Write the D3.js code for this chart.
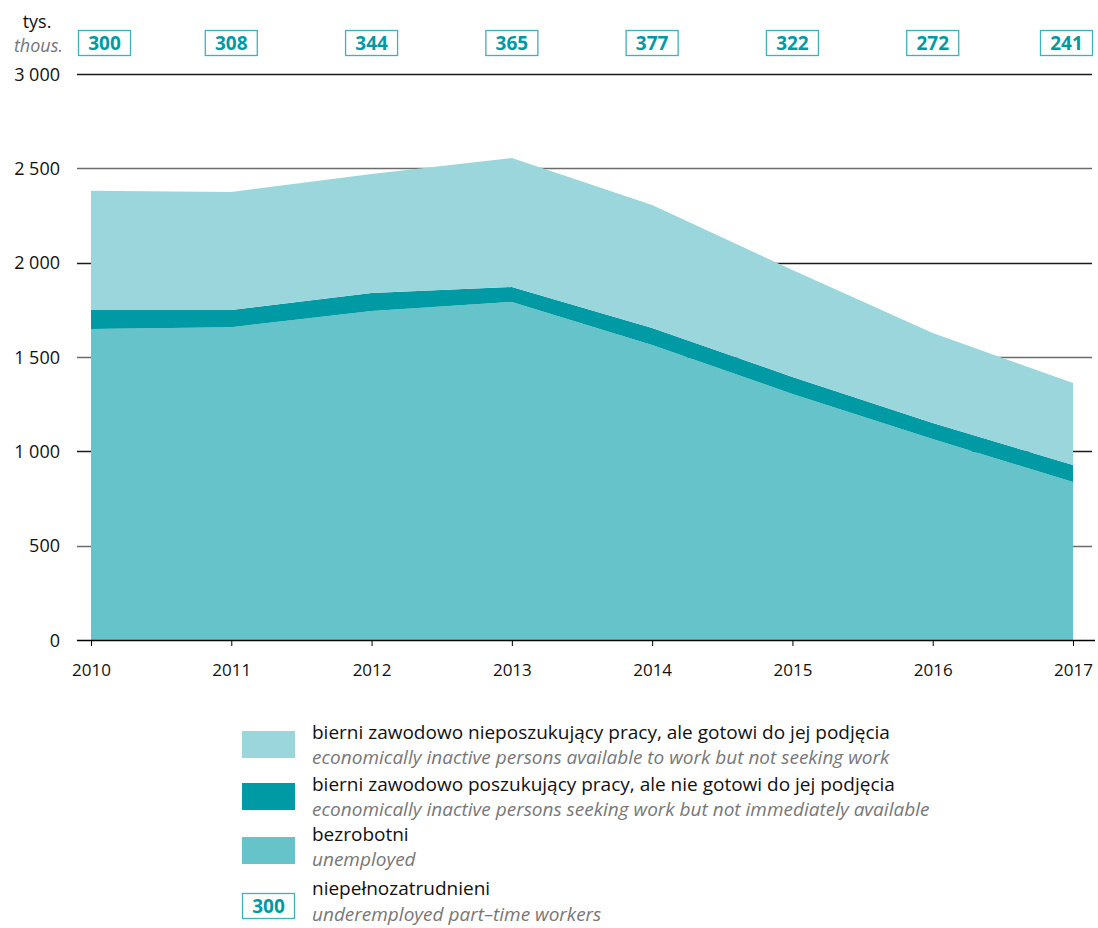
<!DOCTYPE html>
<html><head><meta charset="utf-8">
<script src="https://cdn.jsdelivr.net/npm/d3@7"></script>
<style>body{margin:0;background:#fff}svg{display:block}text{font-family:"Open Sans",sans-serif}</style>
</head><body>
<svg id="c" width="1098" height="928"></svg>
<script>
const years = [2010, 2011, 2012, 2013, 2014, 2015, 2016, 2017];
const unemployed = [1648, 1658, 1744, 1792, 1564, 1304, 1065, 837];
const seekingNotAvailable = [101, 91, 95, 79, 90, 90, 85, 91];
const availableNotSeeking = [632, 626, 631, 684, 652, 567, 477, 434];
const underemployed = [300, 308, 344, 365, 377, 322, 272, 241];
const yTicks = [0, 500, 1000, 1500, 2000, 2500, 3000];
const seriesKeys = ["unemployed", "seeking", "available"];
const seriesColors = {unemployed: "#66c3c9", seeking: "#009aa5", available: "#9ad6dc"};
const legendItems = [
  {key: "available", pl: "bierni zawodowo nieposzukujący pracy, ale gotowi do jej podjęcia", en: "economically inactive persons available to work but not seeking work"},
  {key: "seeking", pl: "bierni zawodowo poszukujący pracy, ale nie gotowi do jej podjęcia", en: "economically inactive persons seeking work but not immediately available"},
  {key: "unemployed", pl: "bezrobotni", en: "unemployed"},
  {key: "box", pl: "niepełnozatrudnieni", en: "underemployed part–time workers"}
];

const svg = d3.select("#c");
const x = d3.scaleLinear().domain([2010, 2017]).range([91, 1073]);
const y = d3.scaleLinear().domain([0, 3000]).range([640, 74]);
const fmt = v => v === 0 ? "0" : d3.format(",")(v).replace(",", " ");

// gridlines
svg.append("g").selectAll("line").data(yTicks.filter(t => t > 0)).join("line")
  .attr("x1", 77).attr("x2", 1092)
  .attr("y1", d => Math.round(y(d)) + 0.5).attr("y2", d => Math.round(y(d)) + 0.5)
  .attr("stroke", (d, i) => i % 2 === 0 ? "#6b6b6b" : "#1a1a1a").attr("stroke-width", 1.3);

// stacked areas
const table = years.map((yr, i) => ({year: yr, unemployed: unemployed[i], seeking: seekingNotAvailable[i], available: availableNotSeeking[i]}));
const stack = d3.stack().keys(seriesKeys)(table);
const area = d3.area().x(d => x(d.data.year)).y0(d => y(d[0])).y1(d => y(d[1]));
svg.append("g").selectAll("path").data(stack).join("path")
  .attr("d", area).attr("fill", d => seriesColors[d.key]);

// y tick labels
svg.append("g").selectAll("text").data(yTicks).join("text")
  .attr("x", 60).attr("y", d => y(d) + 6.5).attr("text-anchor", "end")
  .attr("font-size", 18).attr("fill", "#111").text(fmt);

// x axis
const xAxis = d3.axisBottom(x).tickValues(years).tickFormat(d3.format("d")).tickSize(6).tickSizeOuter(0);
const gx = svg.append("g").attr("transform", "translate(0,640)").call(xAxis);
gx.select(".domain").attr("d", "M77,0.5H1095").attr("stroke", "#000").attr("stroke-width", 1.5);
gx.selectAll(".tick line").attr("stroke", "#000");
gx.selectAll(".tick text").attr("font-size", 17).attr("fill", "#111").attr("y", 24).attr("dy", "0.71em")
  .attr("font-family", "'Open Sans',sans-serif");

// unit labels
svg.append("text").attr("x", 37).attr("y", 28).attr("text-anchor", "middle").attr("font-size", 18).attr("fill", "#111").text("tys.");
svg.append("text").attr("x", 63).attr("y", 52).attr("text-anchor", "end").attr("font-size", 18).attr("font-style", "italic").attr("fill", "#777").text("thous.");

// underemployed boxes
const bw = 53, bh = 26;
const bx = d => Math.max(78, Math.min(1093 - bw, x(d) - bw / 2));
const boxes = svg.append("g").selectAll("g").data(years).join("g")
  .attr("transform", d => `translate(${bx(d)},30)`);
boxes.append("rect").attr("x", 0.5).attr("y", 0.5).attr("width", bw - 1).attr("height", bh - 1)
  .attr("fill", "#fff").attr("stroke", "#3fb1b9").attr("stroke-width", 1.3);
boxes.append("text").attr("x", bw / 2).attr("y", 20).attr("text-anchor", "middle")
  .attr("font-size", 19).attr("font-weight", "bold").attr("fill", "#009aa5")
  .text((d, i) => underemployed[i]);

// legend (layout: swatch top, line baselines)
const legendTops = [731, 783, 837, 893];
const legendBase = [[739, 764], [791, 816], [841, 866], [895, 921]];
const lg = svg.append("g").selectAll("g").data(legendItems).join("g");
lg.each(function(d, i) {
  const g = d3.select(this);
  const t = legendTops[i];
  if (d.key === "box") {
    g.append("rect").attr("x", 242.5).attr("y", t + 0.5).attr("width", 52).attr("height", 25)
      .attr("fill", "#fff").attr("stroke", "#3fb1b9").attr("stroke-width", 1.3);
    g.append("text").attr("x", 268.5).attr("y", t + 20).attr("text-anchor", "middle")
      .attr("font-size", 19).attr("font-weight", "bold").attr("fill", "#009aa5").text(underemployed[0]);
  } else {
    g.append("rect").attr("x", 242).attr("y", t).attr("width", 53).attr("height", 27).attr("fill", seriesColors[d.key]);
  }
  g.append("text").attr("x", 312).attr("y", legendBase[i][0]).attr("font-size", 19).attr("fill", "#111").text(d.pl);
  g.append("text").attr("x", 312).attr("y", legendBase[i][1]).attr("font-size", 19).attr("font-style", "italic").attr("fill", "#777").text(d.en);
});
</script>
</body></html>
